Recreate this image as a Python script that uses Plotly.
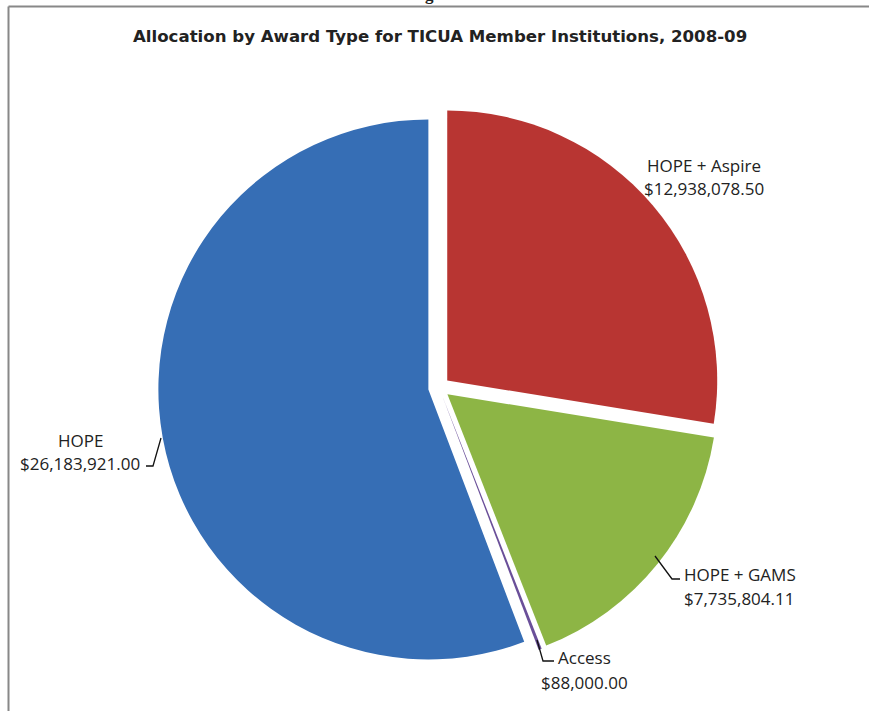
import plotly.graph_objects as go

W, H = 869, 711

labels = ["HOPE + Aspire", "HOPE + GAMS", "Access", "HOPE"]
values = [12938078.50, 7735804.11, 88000.00, 26183921.00]
value_text = ["$12,938,078.50", "$7,735,804.11", "$88,000.00", "$26,183,921.00"]
colors = ["#b83532", "#8db545", "#6a4f99", "#366eb5"]

title_text = "Allocation by Award Type for TICUA Member Institutions, 2008-09"


def px(x, y):
    return x / W, 1 - y / H


# pie geometry (pixels)
cx, cy, r, pull = 439, 387.5, 270, 0.04
R = r * (1 + pull)
dx0, dy1 = px(cx - R, cy - R)
dx1, dy0 = px(cx + R, cy + R)

fig = go.Figure(
    go.Pie(
        labels=labels,
        values=values,
        sort=False,
        direction="clockwise",
        rotation=0,
        pull=[pull] * 4,
        marker=dict(colors=colors, line=dict(width=0)),
        textinfo="none",
        hoverinfo="label+value",
        showlegend=False,
        domain=dict(x=[dx0, dx1], y=[dy0, dy1]),
    )
)

FONT = "Open Sans"
TXT = "#222222"
annotations = []


def add_text(text, x, y, xanchor="center", size=17, bold=False, family=FONT, yanchor="middle"):
    ax, ay = px(x, y)
    annotations.append(
        dict(
            text=f"<b>{text}</b>" if bold else text,
            x=ax, y=ay, xref="paper", yref="paper",
            xanchor=xanchor, yanchor=yanchor, showarrow=False,
            font=dict(family=family, size=size, color=TXT),
        )
    )


# title and cut-off caption above frame
add_text(title_text, 440, 37, size=16.6, bold=True, family="DejaVu Sans")
add_text("Figure", 434, 6, size=17, bold=True, family="Liberation Serif", yanchor="bottom")

# data labels (label line / value line)
label_pos = {
    "HOPE + Aspire": [(704, 165, "center"), (704, 188, "center")],
    "HOPE + GAMS": [(682, 574, "left"), (682, 598, "left")],
    "Access": [(584, 657, "center"), (584, 682, "center")],
    "HOPE": [(80, 440, "center"), (80, 464, "center")],
}
for lab, val in zip(labels, value_text):
    (x1, y1, a1), (x2, y2, a2) = label_pos[lab]
    add_text(lab, x1, y1, xanchor=a1)
    add_text(val, x2, y2, xanchor=a2)

# leader lines
leaders = [
    [(146, 466), (153, 466), (161, 438)],
    [(655, 556), (672, 579), (680, 579)],
    [(537, 640), (543, 661), (554, 661)],
]
shapes = []
for pts in leaders:
    d = "M " + " L ".join(f"{px(x, y)[0]},{px(x, y)[1]}" for x, y in pts)
    shapes.append(dict(type="path", path=d, xref="paper", yref="paper",
                       line=dict(color="#111111", width=1.3)))

# frame
fx0, fy0 = px(8.5, 6.5)
shapes.append(dict(type="line", xref="paper", yref="paper", x0=fx0, y0=fy0, x1=fx0, y1=0,
                   line=dict(color="#888888", width=2)))
shapes.append(dict(type="line", xref="paper", yref="paper", x0=fx0, y0=fy0, x1=1, y1=fy0,
                   line=dict(color="#888888", width=2)))

fig.update_layout(
    width=W, height=H,
    margin=dict(l=0, r=0, t=0, b=0),
    paper_bgcolor="white",
    plot_bgcolor="white",
    annotations=annotations,
    shapes=shapes,
)

fig.write_html("out.html", config={"displayModeBar": False},
               post_script="document.body.style.margin='0';")
